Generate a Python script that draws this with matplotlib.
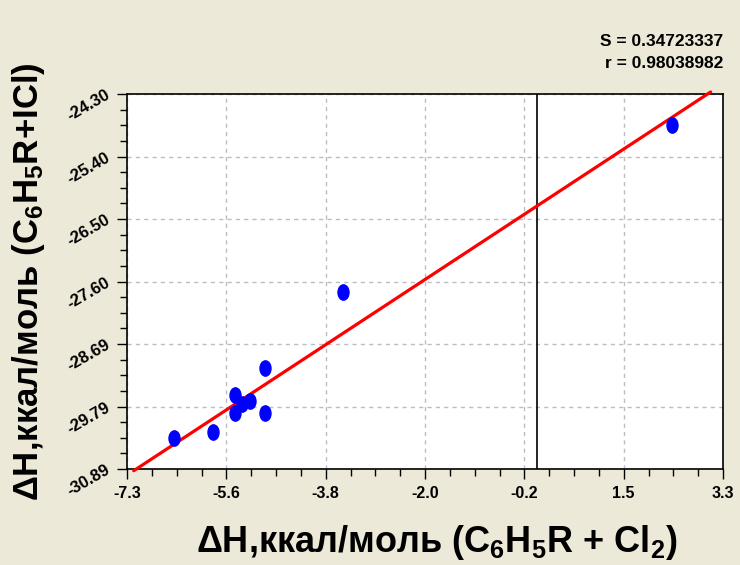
import numpy as np
import matplotlib
matplotlib.use("Agg")
import matplotlib.pyplot as plt
from matplotlib.path import Path

# ---- data ----
x_vals = [-6.46, -5.77, -5.38, -5.38, -5.25, -5.12, -4.84, -4.84, -3.45, 2.40]
y_vals = [-30.35, -30.24, -29.59, -29.90, -29.75, -29.70, -29.11, -29.90, -27.78, -24.85]
fit_x = [-7.18, 3.08]
fit_y = [-30.92, -24.265]
x_tick_labels = ["-7.3", "-5.6", "-3.8", "-2.0", "-0.2", "1.5", "3.3"]
y_tick_labels = ["-30.89", "-29.79", "-28.69", "-27.60", "-26.50", "-25.40", "-24.30"]
x_range = (-7.3, 3.3)
y_range = (-30.89, -24.30)
vline_x = 0.0
stats_text = ["S = 0.34723337", "r = 0.98038982"]

plt.rcParams['font.family'] = ['Liberation Sans', 'DejaVu Sans']
plt.rcParams['mathtext.fontset'] = 'custom'
plt.rcParams['mathtext.rm'] = 'Liberation Sans:bold'
plt.rcParams['mathtext.it'] = 'Liberation Sans:bold'
plt.rcParams['mathtext.bf'] = 'Liberation Sans:bold'

bg = '#ECE9D8'
fig = plt.figure(figsize=(7.4, 5.65), dpi=100, facecolor=bg)
ax = fig.add_axes([127/740, 1-469/565, (723-127)/740, (469-94)/565])
ax.set_facecolor('white')

ax.set_xlim(*x_range)
ax.set_ylim(*y_range)
xt = np.linspace(x_range[0], x_range[1], len(x_tick_labels))
yt = np.linspace(y_range[0], y_range[1], len(y_tick_labels))
ax.set_xticks(xt)
ax.set_xticklabels(x_tick_labels, fontsize=11.5, fontweight='bold')
ax.set_yticks(yt)
ax.set_yticklabels(y_tick_labels, fontsize=12, fontweight='bold',
                   rotation=30, rotation_mode='anchor', ha='right', va='center')
xm = np.linspace(x_range[0], x_range[1], 4*(len(x_tick_labels)-1)+1)
ym = np.linspace(y_range[0], y_range[1], 4*(len(y_tick_labels)-1)+1)
ax.set_xticks(xm, minor=True)
ax.set_yticks(ym, minor=True)
ax.tick_params(axis='both', which='major', direction='out', length=7, width=1, color='black')
ax.tick_params(axis='both', which='minor', direction='out', length=5, width=1, color='black')
ax.tick_params(axis='x', pad=5)
ax.tick_params(axis='y', pad=6)

ax.grid(True, which='major', color='#BDBDBD', linestyle=(0, (3, 3)), linewidth=1)
ax.set_axisbelow(True)
for sp in ax.spines.values():
    sp.set_linewidth(1.2)
    sp.set_color('black')

ax.axvline(vline_x, color='black', linewidth=1.2, zorder=2)

ax.plot(fit_x, fit_y, color='red', linewidth=2.3, clip_on=False, zorder=3, solid_capstyle='round')

circ = Path.unit_circle()
ell = Path(circ.vertices * np.array([0.72, 1.0]), circ.codes)
ax.plot(x_vals, y_vals, linestyle='none', marker=ell, markersize=11,
        color='#0000FF', markeredgecolor='#0000FF', zorder=4)

fig.text(723/740, 1-42/565, stats_text[0], ha='right', va='center', fontsize=12.5, fontweight='bold')
fig.text(723/740, 1-63/565, stats_text[1], ha='right', va='center', fontsize=12.5, fontweight='bold')

fig.text(437/740, 1-543/565, r'$\Delta$H,ккал/моль (C$_6$H$_5$R + Cl$_2$)',
         ha='center', va='center', fontsize=26, fontweight='bold')
fig.text(29/740, 1-282/565, r'$\Delta$H,ккал/моль (C$_6$H$_5$R+ICl)',
         ha='center', va='center', fontsize=25, fontweight='bold', rotation=90)

fig.savefig('out.png', dpi=100, facecolor=bg)
